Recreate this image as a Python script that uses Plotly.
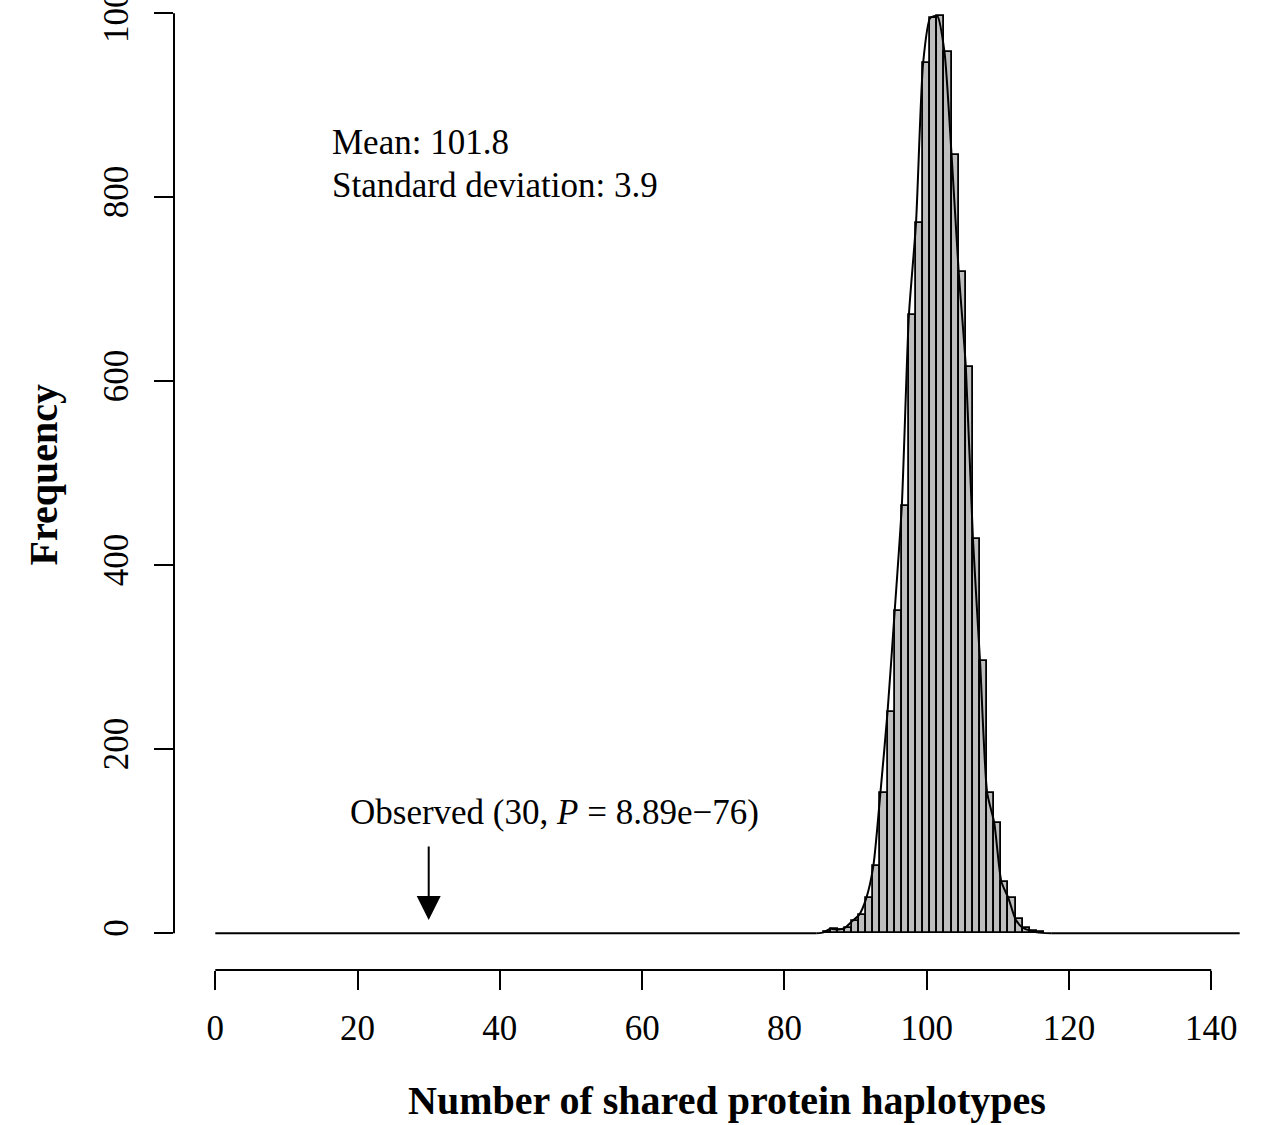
import plotly.graph_objects as go

# ---- data ----
bin_centers = [86, 87, 88, 89, 90, 91, 92, 93, 94, 95, 96, 97, 98, 99, 100,
               101, 102, 103, 104, 105, 106, 107, 108, 109, 110, 111, 112,
               113, 114, 115, 116]
bin_counts = [1, 5, 4, 6, 13, 20, 38, 73, 153, 241, 350, 464, 672, 772, 946,
              995, 997, 958, 846, 719, 616, 429, 296, 153, 120, 56, 38,
              15, 6, 3, 1]
curve_left_x = [0, 84.5]          # fitted line is flat at 0 outside the histogram
curve_left_y = [0, 0]
curve_right_x = [117.5, 144]
curve_right_y = [0, 0]
x_ticks = [0, 20, 40, 60, 80, 100, 120, 140]
y_ticks = [0, 200, 400, 600, 800, 1000]
mean_text = "Mean: 101.8"
sd_text = "Standard deviation: 3.9"
observed_x = 30
observed_label = "Observed (30, <i>P</i> = 8.89e\u221276)"
arrow_from_y = 96
arrow_to_y = 14.5

FONT = "Liberation Serif, Times New Roman, serif"

fig = go.Figure()

fig.add_trace(go.Bar(
    x=bin_centers, y=bin_counts, width=1,
    marker=dict(color="#bebebe", line=dict(color="black", width=1.8)),
    hoverinfo="skip", showlegend=False,
))

# smooth curve through the counts at the bins' left edges
cx = curve_left_x[-1:] + [c - 0.5 for c in bin_centers] + curve_right_x[:1]
cy = curve_left_y[-1:] + list(bin_counts) + curve_right_y[:1]
fig.add_trace(go.Scatter(
    x=cx, y=cy, mode="lines",
    line=dict(color="black", width=2, shape="spline", smoothing=0.6),
    hoverinfo="skip", showlegend=False,
))
for tx, ty in ((curve_left_x, curve_left_y), (curve_right_x, curve_right_y)):
    fig.add_trace(go.Scatter(x=tx, y=ty, mode="lines", line=dict(color="black", width=2),
                             hoverinfo="skip", showlegend=False))

# axis lines in R style (only spanning tick range)
fig.add_shape(type="line", xref="x", yref="paper", x0=x_ticks[0], x1=x_ticks[-1], y0=0, y1=0,
              line=dict(color="black", width=2))
fig.add_shape(type="line", xref="paper", yref="y", x0=0, x1=0, y0=y_ticks[0], y1=y_ticks[-1],
              line=dict(color="black", width=2))

# annotations
fig.add_annotation(x=16.12, y=859.6, xref="x", yref="y", text=mean_text, showarrow=False,
                   xanchor="left", yanchor="middle", font=dict(family=FONT, size=35, color="black"))
fig.add_annotation(x=16.12, y=813.4, xref="x", yref="y", text=sd_text, showarrow=False,
                   xanchor="left", yanchor="middle", font=dict(family=FONT, size=35, color="black"))
fig.add_annotation(x=47.75, y=131.3, xref="x", yref="y", text=observed_label, showarrow=False,
                   xanchor="center", yanchor="middle", font=dict(family=FONT, size=35, color="black"))
fig.add_annotation(x=observed_x, y=arrow_to_y, ax=observed_x, ay=arrow_from_y,
                   xref="x", yref="y", axref="x", ayref="y", text="", showarrow=True,
                   arrowhead=2, arrowsize=2.4, arrowwidth=2, arrowcolor="black")

# axis titles
fig.add_annotation(x=72.0, y=-0.135, xref="x", yref="paper", text="<b>Number of shared protein haplotypes</b>",
                   showarrow=False, xanchor="center", yanchor="middle",
                   font=dict(family=FONT, size=40, color="black"))
fig.add_annotation(x=-0.1192, y=0.5103, xref="paper", yref="paper", text="<b>Frequency</b>",
                   showarrow=False, textangle=-90, xanchor="center", yanchor="middle",
                   font=dict(family=FONT, size=40, color="black"))

fig.update_layout(
    width=1269, height=1125,
    margin=dict(l=174, r=0, t=0, b=155, pad=0),
    plot_bgcolor="white", paper_bgcolor="white",
    bargap=0,
    xaxis=dict(range=[-5.805, 148.12], tickvals=x_ticks, ticktext=[str(v) for v in x_ticks],
               ticks="outside", ticklen=19, tickwidth=2, tickcolor="black",
               ticklabelstandoff=8, ticklabeloverflow="allow", automargin=False,
               showgrid=False, zeroline=False, showline=False,
               tickfont=dict(family=FONT, size=35, color="black")),
    yaxis=dict(range=[-39.9, 1014.5], tickvals=y_ticks, ticktext=[str(v) for v in y_ticks],
               ticks="outside", ticklen=19, tickwidth=2, tickcolor="black", tickangle=-90,
               ticklabelstandoff=12, ticklabeloverflow="allow", automargin=False,
               showgrid=False, zeroline=False, showline=False,
               tickfont=dict(family=FONT, size=35, color="black")),
)

fig.write_html("out.html", config={"displayModeBar": False},
               post_script="document.body.style.margin='0px';")
